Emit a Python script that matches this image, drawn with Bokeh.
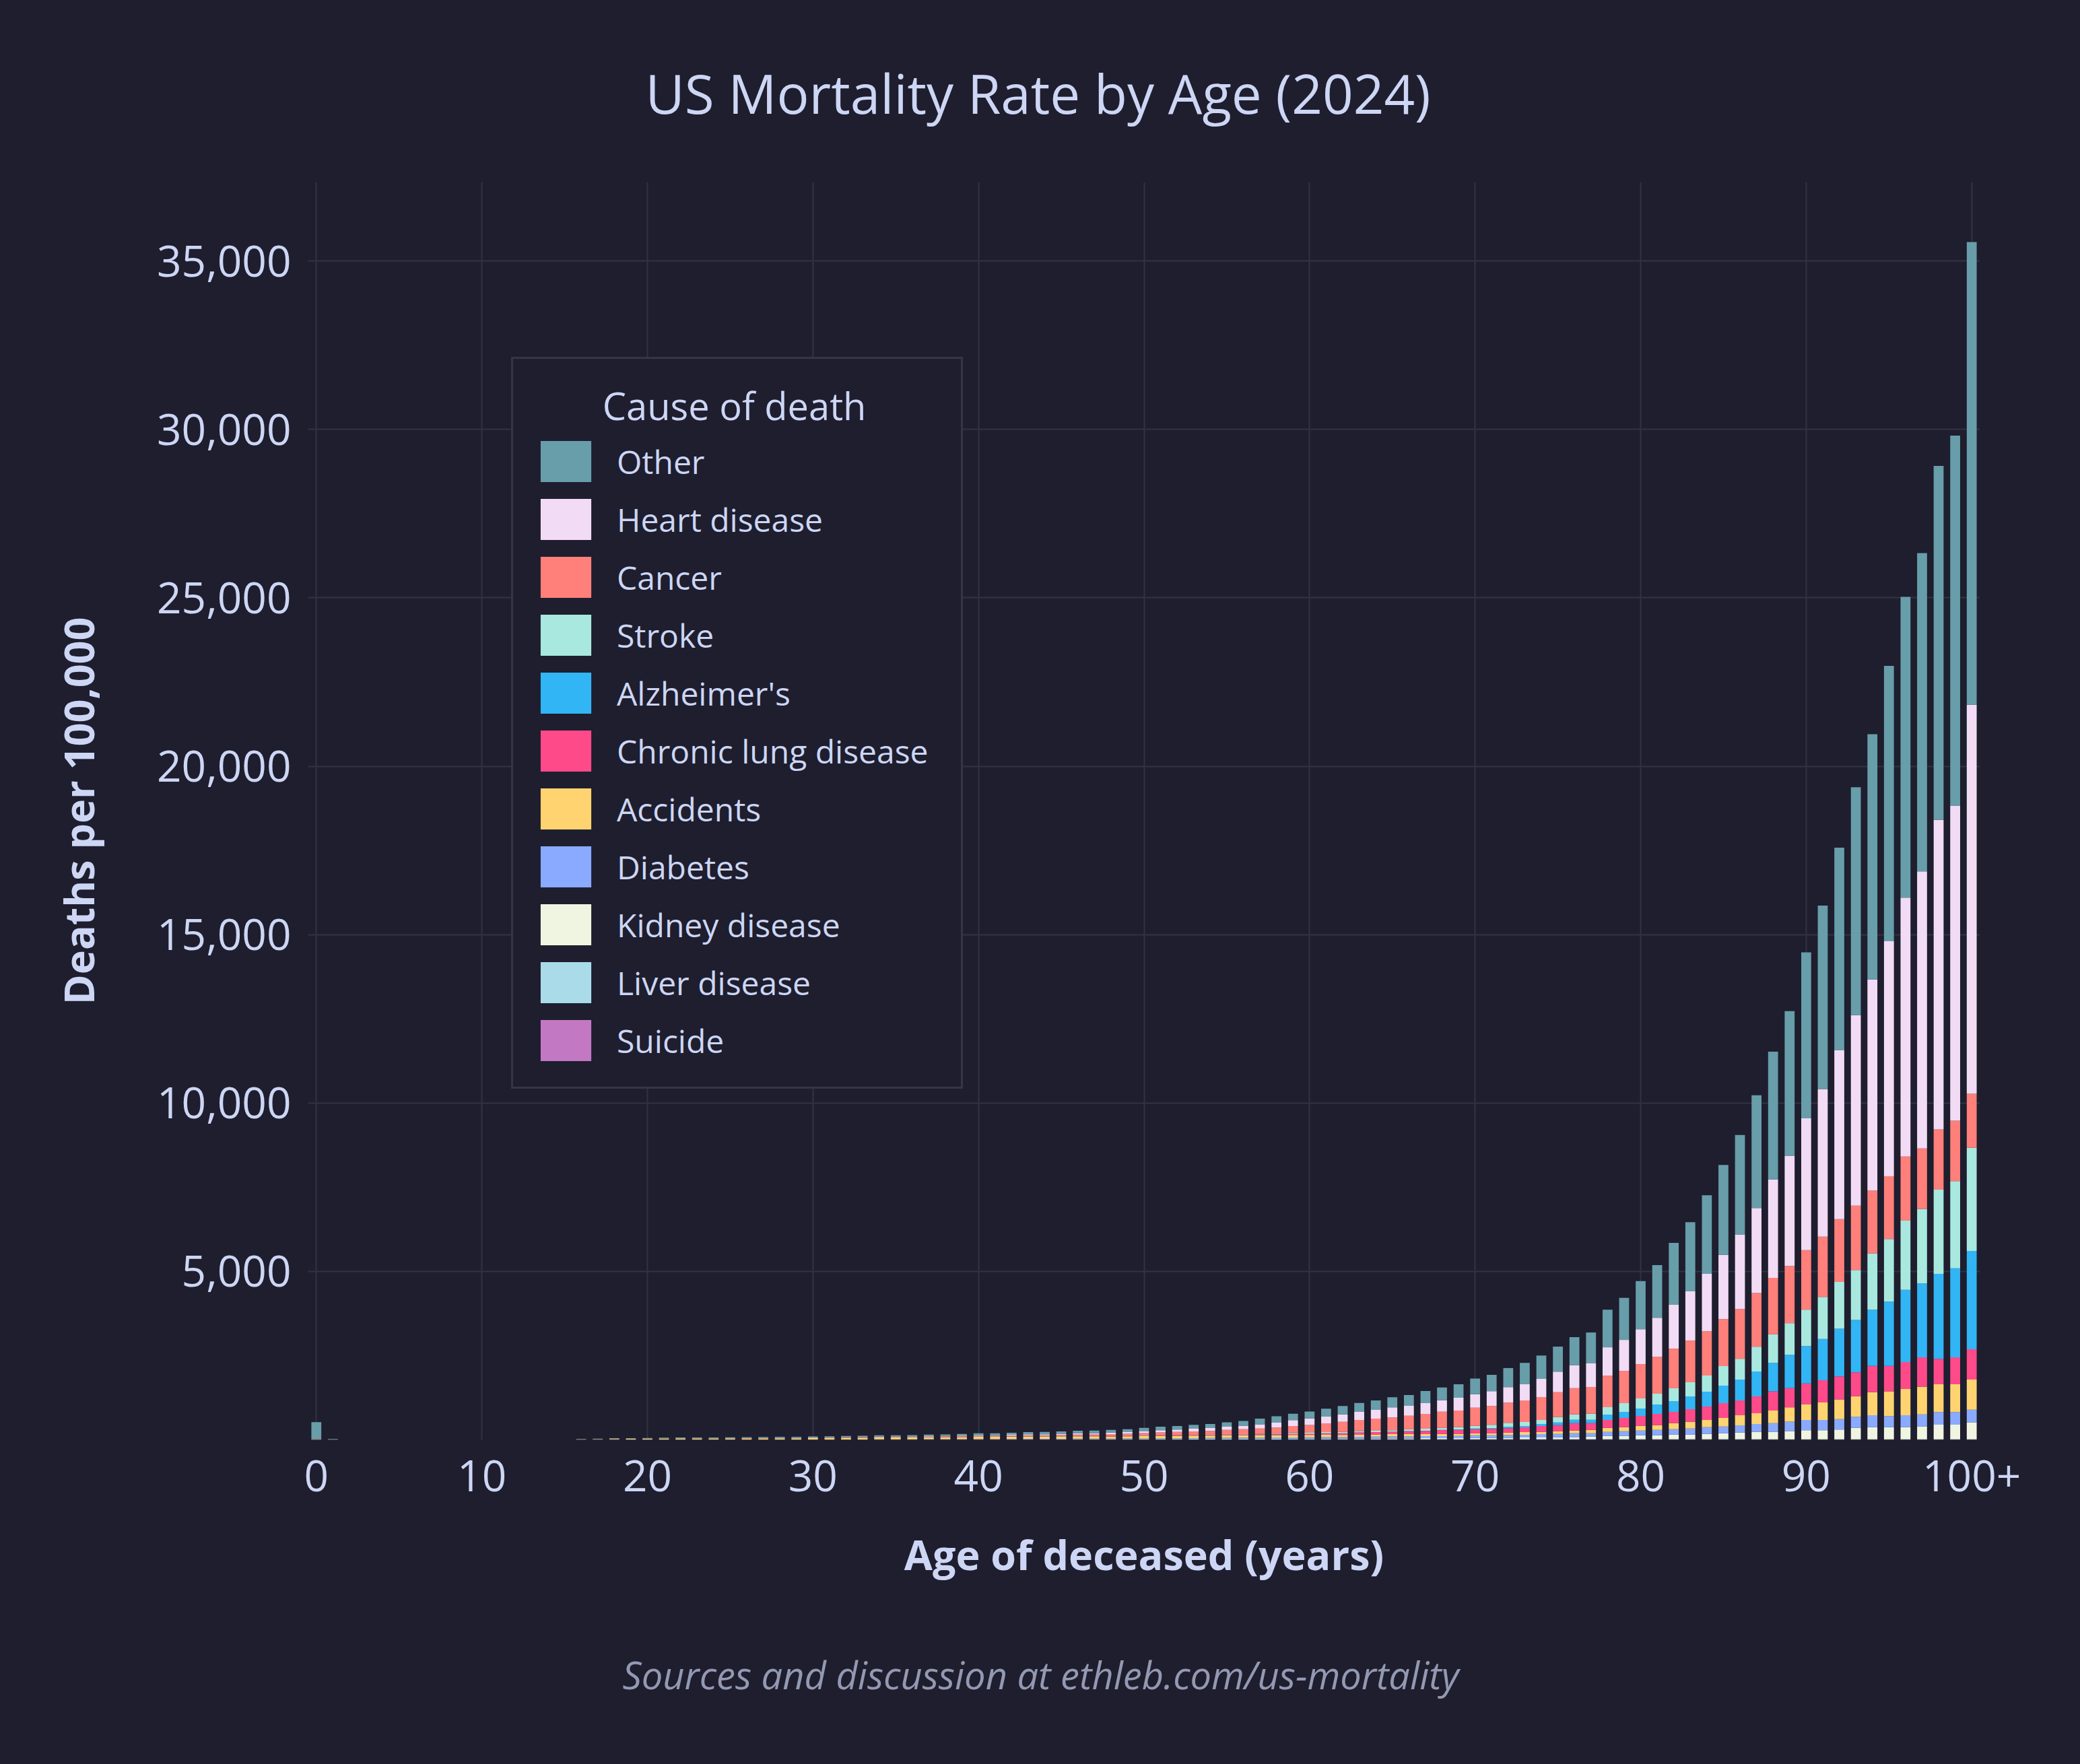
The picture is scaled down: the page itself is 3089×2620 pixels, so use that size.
from bokeh.plotting import figure
from bokeh.models import (Legend, LegendItem, Title, FixedTicker, Range1d,
                          NumeralTickFormatter, ColumnDataSource)
from bokeh.embed import file_html
from bokeh.resources import INLINE

# ---------------- data (deaths per 100,000) ----------------
ages = [0, 1] + list(range(16, 101))

other = [500, 14, 11, 13, 18, 19, 20, 23, 23, 24, 24, 24, 27, 28, 28, 29, 31, 31, 36, 36,
         40, 40, 40, 44, 44, 50, 54, 54, 60, 66, 67, 71, 76, 77, 82, 84, 97, 104, 108, 116,
         120, 132, 142, 167, 192, 190, 209, 225, 250, 265, 279, 299, 319, 359, 379, 399, 465,
         484, 569, 635, 694, 742, 838, 918, 1117, 1248, 1431, 1566, 1843, 2052, 2334, 2668,
         2950, 3347, 3795, 4290, 4926, 5445, 6010, 6765, 7283, 8179, 8933, 9451, 10512,
         10984, 13741]
heart = [6, 1, 1, 1, 2, 2, 2, 3, 3, 3, 3, 4, 5, 5, 6, 6, 7, 8, 10, 10,
         12, 12, 13, 15, 16, 18, 22, 23, 26, 29, 30, 33, 37, 38, 45, 50, 58, 65, 70, 78,
         84, 96, 106, 125, 145, 175, 192, 210, 220, 240, 259, 299, 299, 319, 339, 379, 399,
         439, 459, 479, 539, 613, 678, 698, 838, 918, 1037, 1157, 1300, 1461, 1700, 1907,
         2218, 2522, 2923, 3276, 3913, 4384, 5021, 5657, 6270, 6977, 7684, 8226, 9192,
         9357, 11549]
cancer = [2, 2, 2, 2, 3, 3, 3, 3, 4, 4, 4, 5, 5, 6, 6, 7, 8, 9, 10, 11,
          12, 13, 14, 16, 17, 20, 24, 25, 28, 32, 33, 38, 43, 45, 55, 62, 74, 86, 94, 104,
          114, 130, 145, 160, 180, 210, 230, 260, 298, 330, 359, 379, 399, 439, 479, 499, 539,
          559, 599, 639, 678, 738, 778, 798, 938, 958, 1017, 1097, 1177, 1237, 1317, 1396,
          1476, 1594, 1673, 1697, 1768, 1791, 1862, 1909, 1862, 1862, 1909, 1791, 1791,
          1791, 1603]
stroke = [2, 0, 0, 0, 0, 0, 0, 0, 0, 0, 0, 0, 0, 0, 1, 1, 1, 1, 1, 1,
          1, 2, 2, 2, 2, 3, 3, 3, 4, 4, 4, 5, 5, 5, 6, 7, 8, 9, 10, 11,
          12, 14, 15, 17, 19, 30, 35, 37, 38, 40, 40, 45, 55, 60, 60, 62, 80,
          100, 118, 120, 120, 160, 160, 180, 219, 259, 299, 319, 379, 419, 479, 579,
          618, 738, 849, 943, 1084, 1250, 1390, 1485, 1674, 1862, 2050, 2216, 2499,
          2593, 3064]
alzheimers = [0, 0, 0, 0, 0, 0, 0, 0, 0, 0, 0, 0, 0, 0, 0, 0, 0, 0, 0, 0,
              0, 0, 0, 0, 0, 0, 0, 0, 0, 0, 0, 0, 0, 0, 0, 0, 0, 0, 0, 0,
              1, 1, 1, 1, 2, 2, 2, 2, 2, 3, 3, 3, 4, 5, 6, 15, 20,
              22, 40, 40, 60, 80, 100, 100, 160, 180, 219, 279, 319, 379, 439, 519,
              618, 738, 848, 990, 1107, 1225, 1414, 1556, 1673, 1909, 2145, 2192, 2522,
              2640, 2923]
lung = [1, 0, 0, 0, 0, 0, 0, 0, 0, 0, 0, 0, 0, 0, 0, 0, 0, 0, 0, 1,
        1, 1, 1, 2, 2, 2, 2, 2, 2, 3, 3, 4, 4, 5, 6, 7, 8, 9, 10, 11,
        12, 14, 16, 19, 22, 25, 30, 40, 48, 65, 70, 70, 80, 95, 115, 120, 120,
        130, 130, 140, 178, 180, 219, 200, 239, 279, 299, 339, 339, 379, 399, 439,
        439, 499, 566, 566, 613, 660, 684, 707, 778, 754, 802, 872, 754,
        801, 896]
accidents = [10, 7, 12, 15, 21, 22, 24, 29, 31, 32, 31, 32, 36, 37, 38, 38, 43, 43, 48, 48,
             53, 53, 53, 57, 57, 60, 64, 64, 66, 68, 68, 68, 70, 70, 66, 66, 70, 72, 72, 73,
             73, 74, 74, 74, 74, 72, 70, 70, 65, 62, 65, 70, 75, 62, 62, 62, 60,
             60, 78, 80, 62, 80, 80, 100, 120, 120, 140, 140, 180, 200, 219, 259,
             299, 319, 377, 424, 472, 519, 589, 613, 683, 731, 777, 825, 825,
             825, 895]
diabetes = [0, 0, 0, 0, 1, 1, 1, 1, 1, 1, 1, 1, 1, 1, 1, 1, 2, 2, 2, 2,
            3, 3, 3, 3, 4, 4, 6, 6, 6, 7, 7, 8, 9, 9, 10, 11, 13, 14, 15, 17,
            18, 21, 23, 26, 29, 35, 40, 45, 48, 55, 58, 60, 60, 62, 62, 62, 80,
            80, 80, 82, 100, 100, 118, 100, 120, 140, 140, 160, 160, 180, 200, 200,
            219, 239, 259, 283, 306, 306, 307, 329, 354, 330, 354, 353, 377,
            377, 377]
kidney = [3, 0, 0, 0, 0, 0, 0, 0, 0, 0, 0, 0, 0, 0, 0, 0, 0, 0, 0, 0,
          1, 1, 1, 1, 1, 1, 1, 1, 2, 2, 2, 2, 3, 3, 3, 3, 4, 4, 5, 5,
          6, 7, 8, 9, 10, 10, 10, 12, 12, 13, 18, 21, 23, 30, 32, 34, 37,
          37, 40, 52, 54, 57, 60, 75, 94, 94, 114, 114, 134, 134, 154, 174,
          194, 214, 219, 242, 266, 266, 289, 337, 360, 360, 360, 384, 431,
          431, 502]
liver = [1, 0, 0, 0, 0, 0, 0, 0, 0, 0, 1, 1, 1, 1, 1, 1, 1, 2, 2, 2,
         3, 4, 5, 6, 7, 8, 9, 9, 10, 11, 12, 13, 14, 14, 15, 16, 17, 18, 19, 21,
         22, 24, 24, 23, 22, 20, 18, 18, 16, 16, 12, 12, 12, 13, 13, 13, 13,
         13, 13, 13, 13, 13, 13, 13, 14, 14, 14, 14, 14, 14, 14, 14,
         14, 14, 12, 12, 12, 12, 12, 12, 12, 12, 12, 12, 12,
         12, 12]
suicide = [0, 0, 4, 4, 5, 5, 5, 6, 6, 6, 6, 6, 7, 7, 7, 7, 7, 7, 8, 8,
           8, 8, 8, 8, 8, 8, 8, 8, 8, 8, 8, 8, 8, 8, 8, 8, 8, 8, 8, 8,
           8, 8, 8, 7, 7, 6, 6, 6, 6, 6, 5, 5, 5, 5, 5, 5, 5,
           5, 5, 5, 5, 5, 5, 5, 5, 5, 5, 5, 5, 5, 5, 5,
           5, 5, 5, 5, 5, 5, 5, 5, 5, 5, 5, 5, 5,
           5, 5]

causes = ["Suicide", "Liver disease", "Kidney disease", "Diabetes", "Accidents",
          "Chronic lung disease", "Alzheimer's", "Stroke", "Cancer", "Heart disease", "Other"]
series = [suicide, liver, kidney, diabetes, accidents, lung, alzheimers, stroke, cancer, heart, other]
colors = ["#c378c4", "#a9dbe9", "#eff5e1", "#89aaff", "#ffd470",
          "#ff4a8a", "#31b5f4", "#a8e8df", "#ff7f7a", "#f2dbf5", "#689daa"]

x_ticks = [0, 10, 20, 30, 40, 50, 60, 70, 80, 90, 100]
y_ticks = [5000, 10000, 15000, 20000, 25000, 30000, 35000]

# ---------------- styling ----------------
BG = "#1e1e2e"
GRID = "#313244"
TEXT = "#cdd6f4"
FONT = "Open Sans"

src = ColumnDataSource(dict(age=ages, **{c: s for c, s in zip(causes, series)}))

p = figure(width=3089, height=2620, title=None,
           x_range=Range1d(-0.5, 100.5), y_range=Range1d(0, 37345),
           output_backend="svg", toolbar_location=None,
           min_border_left=457, min_border_right=149,
           min_border_top=270, min_border_bottom=482,
           background_fill_color=BG, border_fill_color=None)
p.outline_line_color = None
p.styles = {"background-color": BG}

renderers = p.vbar_stack(causes, x="age", width=0.6, source=src,
                         fill_color=colors, line_color=None)

for ax in (p.xaxis[0], p.yaxis[0]):
    ax.axis_line_color = None
    ax.major_tick_line_color = None
    ax.minor_tick_line_color = None
    ax.major_label_text_color = TEXT
    ax.major_label_text_font = FONT
    ax.major_label_text_font_size = "64px"
    ax.axis_label_text_color = TEXT
    ax.axis_label_text_font = FONT
    ax.axis_label_text_font_size = "61px"
    ax.axis_label_text_font_style = "bold"

p.xaxis.ticker = FixedTicker(ticks=x_ticks)
p.xaxis.major_label_overrides = {100: "100+"}
p.xaxis.major_label_standoff = 24
p.xaxis.axis_label = "Age of deceased (years)"
p.xaxis.axis_label_standoff = 49

p.yaxis.ticker = FixedTicker(ticks=y_ticks)
p.yaxis.formatter = NumeralTickFormatter(format="0,0")
p.yaxis.major_label_standoff = 19
p.yaxis.axis_label = "Deaths per 100,000"
p.yaxis.axis_label_standoff = 72

p.xgrid.grid_line_color = GRID
p.xgrid.grid_line_width = 2
p.ygrid.grid_line_color = GRID
p.ygrid.grid_line_width = 2

items = [LegendItem(label=name, renderers=[r]) for name, r in zip(causes, renderers)][::-1]
legend = Legend(items=items, location=(302, 521),
                title="\u00a0" * 7 + "Cause of death",
                title_text_font=FONT, title_text_font_size="56px", title_text_color=TEXT,
                title_text_font_style="normal", title_standoff=7,
                label_text_font=FONT, label_text_font_size="48px", label_text_color=TEXT,
                glyph_width=94, glyph_height=76, label_height=76, label_width=480,
                label_standoff=29, spacing=10, padding=31, margin=0,
                background_fill_color=BG, background_fill_alpha=1.0,
                border_line_color="#4a4d62", border_line_width=3)
p.add_layout(legend)

# chart title and source note
p.add_layout(Title(text="US Mortality Rate by Age (2024)", align="left", offset=501,
                   vertical_align="bottom", standoff=158, text_font=FONT,
                   text_font_size="80px", text_font_style="normal", text_color=TEXT), "above")
p.add_layout(Title(text="Sources and discussion at ethleb.com/us-mortality", align="left",
                   offset=467, vertical_align="bottom", standoff=188, text_font=FONT,
                   text_font_size="56px", text_font_style="italic", text_color="#9399b2"),
             "below")

html = file_html(p, INLINE)
html = html.replace("<head>", "<head><style>html, body { background: #1e1e2e; margin: 0; }</style>", 1)
open("out.html", "w").write(html)
